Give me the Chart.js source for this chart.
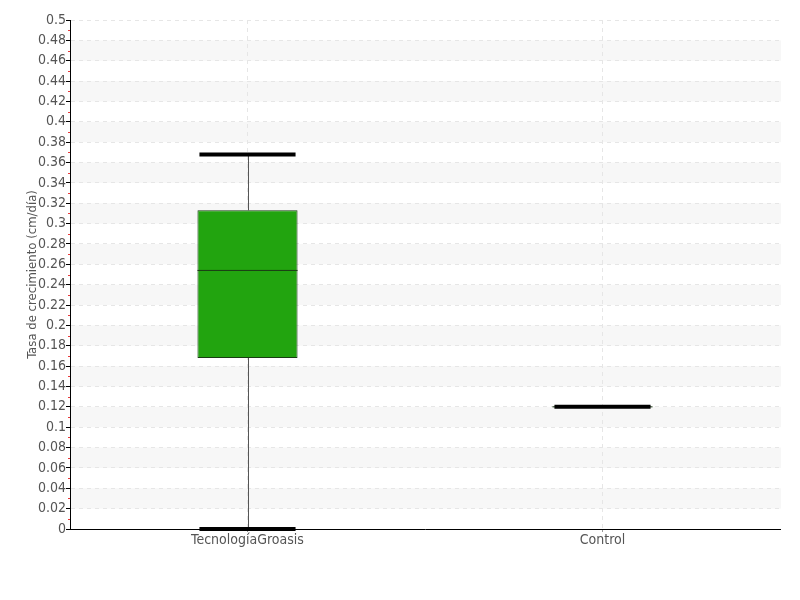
<!DOCTYPE html>
<html>
<head>
<meta charset="utf-8">
<script src="https://cdn.jsdelivr.net/npm/chart.js@4"></script>
<style>
html,body{margin:0;padding:0;background:#fff;}
#wrap{width:800px;height:600px;}
</style>
</head>
<body>
<div id="wrap"><canvas id="c" width="800" height="600"></canvas></div>
<script>
const categories = ['TecnologíaGroasis', 'Control'];
const whiskerLow = [0.0, 0.12];
const q1 = [0.168, 0.12];
const median = [0.254, 0.12];
const q3 = [0.313, 0.12];
const whiskerHigh = [0.368, 0.12];
const yTitle = 'Tasa de crecimiento (cm/día)';

const FONT = "'DejaVu Sans Condensed', 'Liberation Sans Narrow', sans-serif";

const bandsPlugin = {
  id: 'bands',
  beforeDraw(chart) {
    const {ctx, chartArea, scales} = chart;
    const y = scales.y;
    const ticks = y.ticks.map(t => t.value);
    ctx.save();
    ctx.fillStyle = '#f7f7f7';
    for (let i = 1; i < ticks.length - 1; i += 2) {
      const a = y.getPixelForValue(ticks[i]);
      const b = y.getPixelForValue(ticks[i + 1]);
      ctx.fillRect(chartArea.left, Math.min(a, b), chartArea.right - chartArea.left + 1, Math.abs(b - a));
    }
    ctx.restore();
  }
};

const boxPlugin = {
  id: 'boxExtras',
  afterDatasetsDraw(chart) {
    const {ctx, scales} = chart;
    const x = scales.x, y = scales.y;
    const meta = chart.getDatasetMeta(0);
    ctx.save();
    categories.forEach((c, i) => {
      const cx = x.getPixelForValue(i);
      const bar = meta.data[i];
      const half = bar.width / 2;
      const capHalf = half * 0.96;
      ctx.strokeStyle = '#555';
      ctx.lineWidth = 1;
      ctx.beginPath();
      ctx.moveTo(Math.round(cx) + 0.5, y.getPixelForValue(whiskerHigh[i]));
      ctx.lineTo(Math.round(cx) + 0.5, y.getPixelForValue(q3[i]));
      ctx.moveTo(Math.round(cx) + 0.5, y.getPixelForValue(q1[i]));
      ctx.lineTo(Math.round(cx) + 0.5, y.getPixelForValue(whiskerLow[i]));
      ctx.stroke();
      ctx.strokeStyle = '#1c3a16';
      ctx.lineWidth = 1;
      ctx.beginPath();
      ctx.moveTo(cx - half, y.getPixelForValue(median[i]));
      ctx.lineTo(cx + half, y.getPixelForValue(median[i]));
      ctx.stroke();
      ctx.strokeStyle = '#000';
      ctx.lineWidth = 4;
      ctx.beginPath();
      ctx.moveTo(cx - capHalf, y.getPixelForValue(whiskerHigh[i]));
      ctx.lineTo(cx + capHalf, y.getPixelForValue(whiskerHigh[i]));
      ctx.moveTo(cx - capHalf, y.getPixelForValue(whiskerLow[i]));
      ctx.lineTo(cx + capHalf, y.getPixelForValue(whiskerLow[i]));
      ctx.stroke();
    });
    ctx.restore();
  }
};

const minorTicksPlugin = {
  id: 'minorTicks',
  afterDraw(chart) {
    const {ctx, scales} = chart;
    const y = scales.y;
    const ticks = y.ticks.map(t => t.value);
    ctx.save();
    ctx.strokeStyle = '#e83a3a';
    ctx.lineWidth = 1;
    ctx.beginPath();
    for (let i = 0; i < ticks.length - 1; i++) {
      const v = (ticks[i] + ticks[i + 1]) / 2;
      const p = Math.round(y.getPixelForValue(v)) + 0.5;
      ctx.moveTo(y.right - 2, p);
      ctx.lineTo(y.right, p);
    }
    ctx.stroke();
    ctx.restore();
  }
};

new Chart(document.getElementById('c'), {
  type: 'bar',
  data: {
    labels: categories,
    datasets: [{
      data: categories.map((c, i) => [q1[i], q3[i]]),
      backgroundColor: '#22a40f',
      borderColor: '#183d12',
      borderWidth: 1,
      borderSkipped: false,
      categoryPercentage: 1,
      barPercentage: 0.282
    }]
  },
  options: {
    responsive: false,
    animation: false,
    layout: {padding: {top: 20, right: 20, left: 0, bottom: 0}},
    plugins: {legend: {display: false}, tooltip: {enabled: false}},
    scales: {
      x: {
        grid: {color: '#e6e6e6', offset: false, tickLength: 3, tickColor: '#999', lineWidth: 1},
        border: {display: true, color: '#000', width: 1, dash: [4, 4]},
        ticks: {color: '#555', font: {family: FONT, size: 14}, padding: 0},
        afterFit(s) { s.height = 71; }
      },
      y: {
        min: 0, max: 0.5,
        grid: {color: '#e6e6e6', tickLength: 4, tickColor: '#000'},
        border: {display: true, color: '#000', width: 1, dash: [4, 4]},
        ticks: {stepSize: 0.02, color: '#555', font: {family: FONT, size: 14}, padding: 0,
          callback: v => String(Math.round(v * 100) / 100)},
        title: {display: true, text: yTitle, color: '#555', font: {family: FONT, size: 13}, padding: {top: 25, bottom: 0}},
        afterFit(s) { s.width = 70; }
      }
    }
  },
  plugins: [bandsPlugin, boxPlugin, minorTicksPlugin]
});
</script>
</body>
</html>
